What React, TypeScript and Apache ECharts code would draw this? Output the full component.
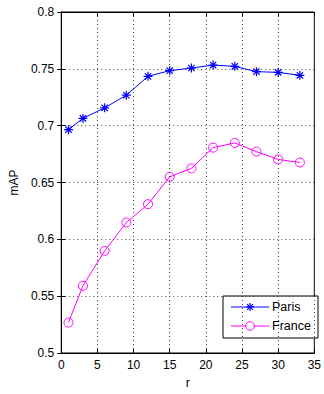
import React, { useEffect, useRef } from "react";
import * as echarts from "echarts";

const rValues = [1, 3, 6, 9, 12, 15, 18, 21, 24, 27, 30, 33];
const parisMAP = [0.6965, 0.7064, 0.7157, 0.7268, 0.7434, 0.7484, 0.7507, 0.7533, 0.7522, 0.7475, 0.7469, 0.7443];
const franceMAP = [0.5268, 0.5591, 0.5898, 0.6148, 0.6309, 0.655, 0.6624, 0.6807, 0.6848, 0.6772, 0.6703, 0.6676];
const seriesNames = ["Paris", "France"];
const seriesColors = ["#0000ff", "#ff00ff"];

const FONT = "Liberation Sans, Arial, sans-serif";
const STAR = "path://M0,-10L0,10M-10,0L10,0M-7,-7L7,7M-7,7L7,-7";

export default function App() {
  const ref = useRef<HTMLDivElement>(null);
  useEffect(() => {
    if (!ref.current) return;
    const chart = echarts.init(ref.current, null, { renderer: "svg" });
    const dotted = { show: true, lineStyle: { color: "#444", type: [1, 3] as any, width: 1 } };
    const fmt = (v: number) => parseFloat(v.toFixed(2)).toString();
    const axisCommon = {
      axisLine: { show: true, lineStyle: { color: "#000", width: 1 } },
      axisTick: { show: true, inside: true, length: 4, lineStyle: { color: "#000" } },
    };

    // legend drawn with graphic elements (line + marker + text)
    const lx = 223, ly = 296, lw = 95, lh = 42;
    const rowY = [307, 326];
    const legendEls: any[] = [
      { type: "rect", shape: { x: lx, y: ly, width: lw, height: lh }, style: { fill: "#fff", stroke: "#000", lineWidth: 1 } },
    ];
    seriesNames.forEach((name, i) => {
      const y = rowY[i];
      legendEls.push({ type: "line", shape: { x1: 231, y1: y, x2: 269, y2: y }, style: { stroke: seriesColors[i], lineWidth: 1 } });
      if (i === 0) {
        const s = 4;
        const d = 2.9;
        legendEls.push({ type: "line", shape: { x1: 250, y1: y - s, x2: 250, y2: y + s }, style: { stroke: seriesColors[i], lineWidth: 1.2 } });
        legendEls.push({ type: "line", shape: { x1: 250 - s, y1: y, x2: 250 + s, y2: y }, style: { stroke: seriesColors[i], lineWidth: 1.2 } });
        legendEls.push({ type: "line", shape: { x1: 250 - d, y1: y - d, x2: 250 + d, y2: y + d }, style: { stroke: seriesColors[i], lineWidth: 1.2 } });
        legendEls.push({ type: "line", shape: { x1: 250 - d, y1: y + d, x2: 250 + d, y2: y - d }, style: { stroke: seriesColors[i], lineWidth: 1.2 } });
      } else {
        legendEls.push({ type: "circle", shape: { cx: 250, cy: y, r: 4.3 }, style: { fill: "#fff", stroke: seriesColors[i], lineWidth: 1 } });
      }
      legendEls.push({
        type: "text",
        x: 272,
        y,
        style: { text: name, fill: "#000", font: `12.5px ${FONT}`, textVerticalAlign: "middle", verticalAlign: "middle" },
      });
    });

    chart.setOption({
      animation: false,
      backgroundColor: "#fff",
      textStyle: { fontFamily: FONT },
      grid: { left: 61, top: 12, right: 5, bottom: 39, show: true, borderColor: "#000", borderWidth: 1 },
      xAxis: [
        {
          type: "value",
          min: 0,
          max: 35,
          interval: 5,
          name: "r",
          nameLocation: "middle",
          nameGap: 24,
          nameTextStyle: { fontSize: 12, color: "#000", fontFamily: FONT },
          axisLabel: { fontSize: 12, color: "#000", margin: 6, fontFamily: FONT },
          splitLine: dotted,
          ...axisCommon,
        },
        {
          type: "value",
          position: "top",
          min: 0,
          max: 35,
          interval: 5,
          axisLabel: { show: false },
          splitLine: { show: false },
          ...axisCommon,
        },
      ],
      yAxis: [
        {
          type: "value",
          min: 0.5,
          max: 0.8,
          interval: 0.05,
          name: "mAP",
          nameLocation: "middle",
          nameGap: 41,
          nameTextStyle: { fontSize: 12, color: "#000", fontFamily: FONT },
          axisLabel: { fontSize: 12, color: "#000", margin: 7, fontFamily: FONT, formatter: fmt },
          splitLine: dotted,
          ...axisCommon,
        },
        {
          type: "value",
          position: "right",
          min: 0.5,
          max: 0.8,
          interval: 0.05,
          axisLabel: { show: false },
          splitLine: { show: false },
          ...axisCommon,
        },
      ],
      series: [
        {
          name: seriesNames[0],
          type: "line",
          data: rValues.map((r, i) => [r, parisMAP[i]]),
          symbol: STAR,
          symbolSize: 9,
          showAllSymbol: true,
          lineStyle: { color: seriesColors[0], width: 1 },
          itemStyle: { color: seriesColors[0], borderColor: seriesColors[0], borderWidth: 1.2 },
        },
        {
          name: seriesNames[1],
          type: "line",
          data: rValues.map((r, i) => [r, franceMAP[i]]),
          symbol: "circle",
          symbolSize: 9,
          showAllSymbol: true,
          lineStyle: { color: seriesColors[1], width: 1 },
          itemStyle: { color: "rgba(0,0,0,0)", borderColor: seriesColors[1], borderWidth: 1 },
        },
      ],
      graphic: { elements: legendEls },
    });
    return () => chart.dispose();
  }, []);
  return (
    <div
      ref={ref}
      style={{ position: "fixed", left: 0, top: 0, width: 324, height: 394, background: "#fff" }}
    />
  );
}
